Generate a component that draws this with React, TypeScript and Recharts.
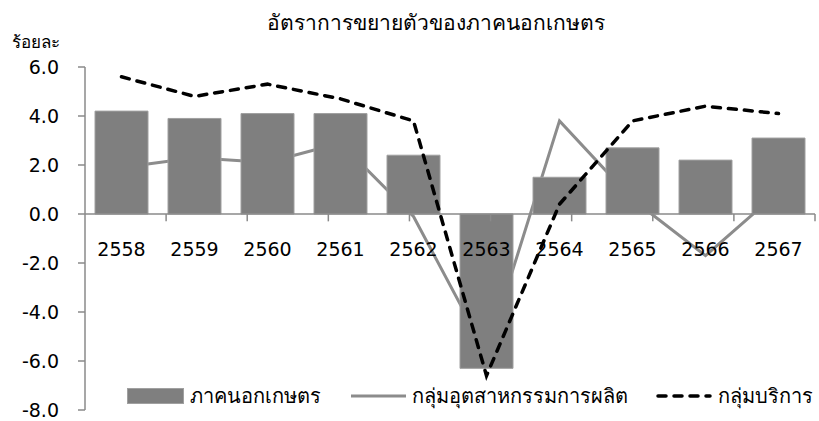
import React from 'react';
import {
  ComposedChart,
  Bar,
  Line,
  XAxis,
  YAxis,
  ReferenceLine,
  ReferenceDot,
} from 'recharts';

const categories = ['2558', '2559', '2560', '2561', '2562', '2563', '2564', '2565', '2566', '2567'];
const nonAgriculture = [4.2, 3.9, 4.1, 4.1, 2.4, -6.3, 1.5, 2.7, 2.2, 3.1];
const manufacturing = [1.9, 2.3, 2.1, 2.9, -0.1, -5.7, 3.8, 0.6, -1.7, 0.9];
const services = [5.6, 4.8, 5.3, 4.7, 3.8, -6.6, 0.4, 3.8, 4.4, 4.1];
const yTicks = [-8, -6, -4, -2, 0, 2, 4, 6];

const seriesNames = {
  nonAgriculture: 'ภาคนอกเกษตร',
  manufacturing: 'กลุ่มอุตสาหกรรมการผลิต',
  services: 'กลุ่มบริการ',
};

const data = categories.map((c, i) => ({
  year: c,
  nonAgriculture: nonAgriculture[i],
  manufacturing: manufacturing[i],
  services: services[i],
}));

const categoryEdges = categories.map((_, i) => i + 1);

const FONT = '"DejaVu Sans", "Noto Sans", sans-serif';
const AXIS_GRAY = '#8a8a8a';

const LegendBlock = () => {
  const item: React.CSSProperties = { display: 'flex', alignItems: 'center' };
  const text: React.CSSProperties = { fontSize: 20, color: '#000', fontFamily: FONT, marginLeft: 6, lineHeight: '20px' };
  return (
    <div style={{ position: 'absolute', left: 127, top: 386, display: 'flex', alignItems: 'center', fontFamily: FONT }}>
      <div style={item}>
        <svg width={57} height={16}>
          <rect x={0.5} y={0.5} width={56} height={15} fill="#7f7f7f" stroke="#a0a0a0" strokeWidth={1} />
        </svg>
        <span style={text}>{seriesNames.nonAgriculture}</span>
      </div>
      <div style={{ ...item, marginLeft: 30 }}>
        <svg width={55} height={16}>
          <line x1={0} y1={8} x2={55} y2={8} stroke="#8c8c8c" strokeWidth={3} />
        </svg>
        <span style={text}>{seriesNames.manufacturing}</span>
      </div>
      <div style={{ ...item, marginLeft: 28 }}>
        <svg width={56} height={16}>
          <line x1={2} y1={8} x2={54} y2={8} stroke="#000" strokeWidth={3.5} strokeDasharray="8 8" strokeLinecap="round" />
        </svg>
        <span style={text}>{seriesNames.services}</span>
      </div>
    </div>
  );
};

export default function App() {
  return (
    <div style={{ position: 'absolute', left: 0, top: 0, width: 819, height: 421, background: '#fff', fontFamily: FONT }}>
      <div
        style={{
          position: 'absolute',
          left: 0,
          width: 872,
          top: 6,
          textAlign: 'center',
          fontSize: 21,
          color: '#000',
          fontFamily: FONT,
        }}
      >
        อัตราการขยายตัวของภาคนอกเกษตร
      </div>
      <div style={{ position: 'absolute', left: 12, top: 28, fontSize: 17, color: '#000', fontFamily: FONT }}>ร้อยละ</div>
      <ComposedChart
        width={819}
        height={421}
        data={data}
        margin={{ top: 67, right: 4, left: 0, bottom: 11 }}
      >
        <XAxis dataKey="year" hide />
        <XAxis xAxisId="edge" type="number" domain={[0, 10]} allowDataOverflow hide />
        <YAxis
          domain={[-8, 6]}
          ticks={yTicks}
          allowDataOverflow
          width={85}
          axisLine={{ stroke: AXIS_GRAY, strokeWidth: 1.5 }}
          tickLine={{ stroke: AXIS_GRAY, strokeWidth: 1.5 }}
          tickSize={7}
          tickMargin={19}
          tickFormatter={(v: number) => v.toFixed(1)}
          tick={{ fill: '#000', fontSize: 19, fontFamily: FONT }}
        />
        <Line
          dataKey="manufacturing"
          name={seriesNames.manufacturing}
          stroke="#8c8c8c"
          strokeWidth={3}
          dot={false}
          isAnimationActive={false}
          zIndex={250}
        />
        <Bar
          dataKey="nonAgriculture"
          name={seriesNames.nonAgriculture}
          fill="#7f7f7f"
          stroke="#a0a0a0"
          strokeWidth={1}
          barSize={53}
          isAnimationActive={false}
        />
        <ReferenceLine y={0} stroke={AXIS_GRAY} strokeWidth={1.5} />
        {categoryEdges.map((e) => (
          <ReferenceLine
            key={'edge' + e}
            xAxisId="edge"
            segment={[
              { x: e, y: 0 },
              { x: e, y: -0.3 },
            ]}
            stroke={AXIS_GRAY}
            strokeWidth={1.5}
          />
        ))}
        {categories.map((c) => (
          <ReferenceDot
            key={'lbl' + c}
            x={c}
            y={0}
            r={0}
            fill="none"
            stroke="none"
            label={{ value: c, position: 'bottom', offset: 29, fill: '#000', fontSize: 19, fontFamily: FONT }}
          />
        ))}
        <Line
          dataKey="services"
          name={seriesNames.services}
          stroke="#000"
          strokeWidth={3.5}
          strokeDasharray="8 8"
          strokeLinecap="round"
          dot={false}
          isAnimationActive={false}
        />
      </ComposedChart>
      <LegendBlock />
    </div>
  );
}
